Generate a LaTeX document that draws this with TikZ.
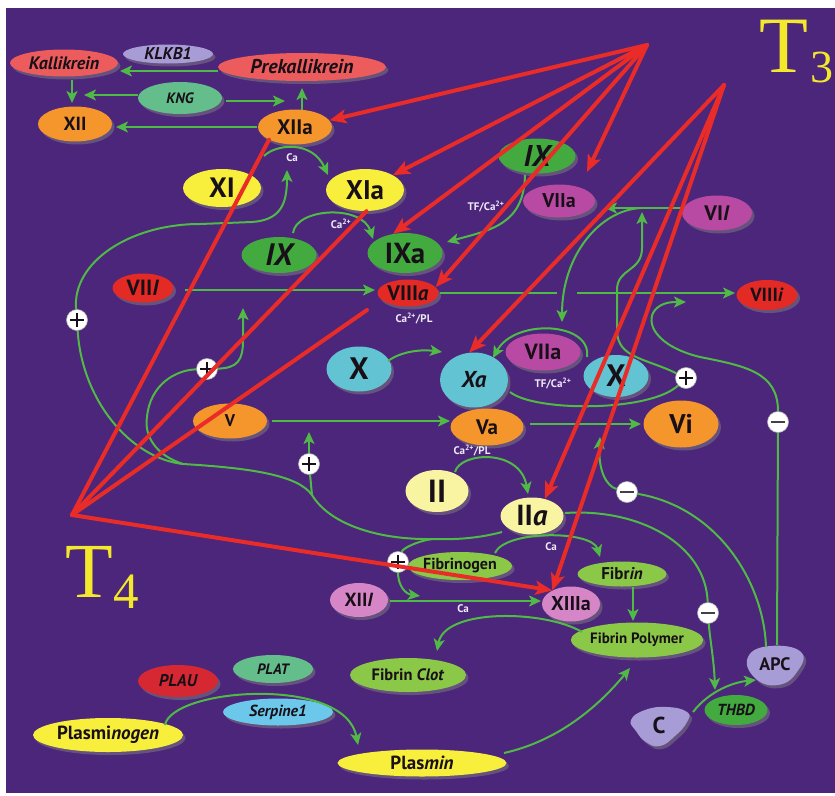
\documentclass[tikz,border=0pt]{standalone}
\usepackage{fontspec}
\setmainfont{PT Sans}
\newfontfamily\tfont{Liberation Serif}
\usetikzlibrary{shapes.geometric,arrows.meta,shadows}

\definecolor{bgpurple}{RGB}{75,38,122}
\definecolor{salmon}{RGB}{236,92,92}
\definecolor{lavender}{RGB}{168,156,214}
\definecolor{kngteal}{RGB}{100,190,140}
\definecolor{orangef}{RGB}{244,150,44}
\definecolor{yellowf}{RGB}{248,238,60}
\definecolor{greenf}{RGB}{66,170,62}
\definecolor{magentaf}{RGB}{184,74,164}
\definecolor{redf}{RGB}{228,42,36}
\definecolor{redf2}{RGB}{214,40,50}
\definecolor{cyanf}{RGB}{98,196,210}
\definecolor{paleyellow}{RGB}{248,244,162}
\definecolor{limef}{RGB}{140,200,72}
\definecolor{pinkf}{RGB}{214,134,198}
\definecolor{skyf}{RGB}{108,200,234}
\definecolor{redline}{RGB}{234,44,40}
\definecolor{greenline}{RGB}{80,186,70}
\definecolor{labyellow}{RGB}{244,232,44}
\definecolor{labwhite}{RGB}{240,234,248}
\definecolor{ink}{RGB}{24,16,24}

\newcommand{\fsz}[1]{\fontsize{#1}{#1}\selectfont\bfseries}

\begin{document}
\begin{tikzpicture}[x=1pt,y=-1pt,
  nd/.style={ellipse, inner sep=0pt, text=ink,
    drop shadow={shadow xshift=2.5pt, shadow yshift=-3pt, opacity=0.5}},
  blob/.style={drop shadow={shadow xshift=2.5pt, shadow yshift=-3pt, opacity=0.5}},
  anchorbox/.style={ellipse, inner sep=0pt, text=ink},
  ga/.style={draw=greenline, line width=2pt, -{Stealth[length=12pt,width=11pt,inset=3pt]}},
  gl/.style={draw=greenline, line width=2pt},
  ra/.style={draw=redline, line width=4pt, line cap=round, -{Stealth[length=17pt,width=14pt,inset=4pt]}},
  rl/.style={draw=redline, line width=4pt, line cap=round},
  lab/.style={text=labwhite, font=\fsz{11}, inner sep=0pt},
  pmbase/.style={circle, fill=white, draw=gray!60, line width=0.6pt, minimum size=21pt, inner sep=0pt},
  plus/.style={pmbase, path picture={\draw[ink, line width=2.4pt]
      ([xshift=-7pt]path picture bounding box.center) -- ([xshift=7pt]path picture bounding box.center)
      ([yshift=-7pt]path picture bounding box.center) -- ([yshift=7pt]path picture bounding box.center);}},
  minus/.style={pmbase, path picture={\draw[ink!80, line width=2.4pt]
      ([xshift=-7pt]path picture bounding box.center) -- ([xshift=7pt]path picture bounding box.center);}},
  tlab/.style={anchor=base west, inner sep=0pt, text=labyellow}
]
\useasboundingbox (0,0) rectangle (835,795);
\fill[white] (0,0) rectangle (835,795);
\fill[bgpurple] (6,8) rectangle (835,793);

% ---------- contact activation ----------
\node[nd, fill=salmon, minimum width=108pt, minimum height=27pt, font=\fsz{18}\itshape] (Kall) at (64,63) {Kallikrein};
\node[nd, fill=lavender, minimum width=90pt, minimum height=19pt, font=\fsz{17}\itshape] (KLKB) at (168,54) {KLKB1};
\node[nd, fill=salmon, minimum width=168pt, minimum height=28pt, font=\fsz{20}\itshape] (Prek) at (302,67) {Prekallikrein};
\node[nd, fill=kngteal, minimum width=84pt, minimum height=32pt, font=\fsz{15}\itshape] (KNG) at (180,98) {KNG};
\node[nd, fill=orangef, minimum width=74pt, minimum height=35pt, font=\fsz{19}] (XII) at (75,124) {XII};
\node[nd, fill=orangef, minimum width=74pt, minimum height=35pt, font=\fsz{21}] (XIIa) at (295,127) {XIIa};

% ---------- intrinsic pathway ----------
\node[nd, fill=yellowf, minimum width=78pt, minimum height=38pt, font=\fsz{28}] (XI) at (222,188) {XI};
\node[nd, fill=yellowf, minimum width=78pt, minimum height=42pt, font=\fsz{27}] (XIa) at (365,190) {XIa};
\node[nd, fill=greenf, minimum width=75pt, minimum height=36pt, font=\fsz{31}\itshape] (IXl) at (279,255) {IX};
\node[nd, fill=greenf, minimum width=75pt, minimum height=40pt, font=\fsz{29}] (IXa) at (405,253) {IXa};
\node[nd, fill=greenf, minimum width=77pt, minimum height=35pt, font=\fsz{30}\itshape] (IXt) at (537,156) {IX};
\node[nd, fill=magentaf, minimum width=72pt, minimum height=33pt, font=\fsz{20}] (VIIat) at (559,201) {VIIa};
\node[nd, fill=magentaf, minimum width=70pt, minimum height=35pt, font=\fsz{21}] (VII) at (717,213) {VI\textit{I}};
\node[nd, fill=redf, minimum width=61pt, minimum height=29pt, font=\fsz{22}] (VIII) at (143,288) {VII\textit{I}};
\node[nd, fill=redf, minimum width=61pt, minimum height=27pt, font=\fsz{21}] (VIIIa) at (408,293) {VIII\textit{a}};
\node[nd, fill=redf, minimum width=61pt, minimum height=30pt, font=\fsz{19}] (VIIIi) at (767,295) {VIII\textit{i}};

% ---------- common pathway ----------
\node[nd, fill=cyanf, minimum width=65pt, minimum height=45pt, font=\fsz{31}] (Xl) at (359,369) {X};
\node[nd, fill=cyanf, minimum width=68pt, minimum height=55pt, font=\fsz{23}\itshape] (Xa) at (474,380) {Xa};
\node[nd, fill=magentaf, minimum width=75pt, minimum height=37pt, font=\fsz{22}] (VIIam) at (543,352) {VIIa};
\node[nd, fill=cyanf, minimum width=65pt, minimum height=42pt, font=\fsz{31}] (Xr) at (616,376) {X};
\node[nd, fill=orangef, minimum width=74pt, minimum height=35pt, font=\fsz{17}] (V) at (230,421) {V};
\node[nd, fill=orangef, minimum width=73pt, minimum height=37pt, font=\fsz{21}] (Va) at (487,427) {Va};
\node[nd, fill=orangef, minimum width=75pt, minimum height=47pt, font=\fsz{27}] (Vi) at (681,424) {Vi};
\node[nd, fill=paleyellow, minimum width=63pt, minimum height=42pt, font=\fsz{32}] (II) at (437,491) {II};
\node[nd, fill=paleyellow, minimum width=63pt, minimum height=37pt, font=\fsz{29}] (IIa) at (532,516) {II\textit{a}};
\node[nd, fill=limef, minimum width=90pt, minimum height=28pt, font=\fsz{16}] (Fgn) at (460,566) {Fibrinogen};
\node[nd, fill=limef, minimum width=89pt, minimum height=25pt, font=\fsz{17}] (Fbn) at (622,574) {Fibr\textit{in}};
\node[nd, fill=pinkf, minimum width=58pt, minimum height=34pt, font=\fsz{19}] (XIII) at (359,600) {XII\textit{I}};
\node[nd, fill=pinkf, minimum width=58pt, minimum height=35pt, font=\fsz{20}] (XIIIa) at (571,604) {XIIIa};
\node[nd, fill=limef, minimum width=115pt, minimum height=35pt, font=\fsz{15}] (FP) at (637,640) {Fibrin Polymer};
\node[nd, fill=limef, minimum width=116pt, minimum height=34pt, font=\fsz{16.5}] (FC) at (408,675) {Fibrin \textit{Clot}};

% ---------- protein C system ----------
\fill[lavender, blob] plot[smooth cycle, tension=0.8] coordinates {(748,657) (770,646) (801,652) (797,672) (778,685) (755,678)};
\node[anchorbox, minimum width=54pt, minimum height=38pt, font=\fsz{18}] (APC) at (775,664) {APC};
\fill[lavender, blob] plot[smooth cycle, tension=0.8] coordinates {(631,720) (645,710) (667,707) (687,712) (687,722) (675,736) (660,746) (646,742) (636,731)};
\node[anchorbox, minimum width=56pt, minimum height=38pt, font=\fsz{23}] (C) at (659,725) {C};
\node[nd, fill=greenf, minimum width=63pt, minimum height=30pt, font=\fsz{16}\itshape] (THBD) at (736,710) {THBD};

% ---------- fibrinolysis ----------
\node[nd, fill=redf2, minimum width=80pt, minimum height=32pt, font=\fsz{17}\itshape] (PLAU) at (178,681) {PLAU};
\node[nd, fill=kngteal, minimum width=80pt, minimum height=28pt, font=\fsz{15}\itshape] (PLAT) at (273,669) {PLAT};
\node[nd, fill=skyf, minimum width=110pt, minimum height=27pt, font=\fsz{16}\itshape] (Serp) at (278,712) {Serpine1};
\node[nd, fill=yellowf, minimum width=150pt, minimum height=34pt, font=\fsz{19}] (Plg) at (108,735) {Plasmi\textit{nogen}};
\node[nd, fill=yellowf, minimum width=169pt, minimum height=27pt, font=\fsz{19}] (Pls) at (422,763) {Plas\textit{min}};

% ---------- feedback signs ----------
\node[plus] (pXI) at (77,320) {};
\node[plus] (pVIII) at (207,369) {};
\node[plus] (pV) at (309,464) {};
\node[plus] (pXIII) at (398,562) {};
\node[plus] (pVII) at (686,378) {};
\node[minus] (mVIII) at (778,422) {};
\node[minus] (mV) at (627,492) {};
\node[minus] (mTH) at (708,613) {};

% ---------- branch points and targets ----------
\coordinate (T3a) at (647,45);
\coordinate (T3b) at (724,85);
\coordinate (T4a) at (72,515);
\coordinate (jVII) at (641,208);
\coordinate (j1) at (312,495);
\coordinate (j2) at (183,464);
\coordinate (j3) at (432,539);
\coordinate (gapA) at (557,293);
\coordinate (gapB) at (577,293);
\coordinate (aV) at (309,432);
\coordinate (aXI) at (287,170);
\coordinate (aVIII) at (243,308);
\coordinate (aXIII) at (420,596);
\coordinate (aVIIIi) at (686,302);
\coordinate (aVi) at (600,437);

% ---------- green reaction arrows ----------
\draw[ga] ([shift={(-84,4)}]Prek.center) -- ([shift={(56,8)}]Kall.center);
\draw[ga] ([shift={(8,17)}]Kall.center) -- ([shift={(-3,-21)}]XII.center);
\draw[ga] ([shift={(-42,-3)}]KNG.center) -- ([shift={(9,-29)}]XII.center);
\draw[ga] ([shift={(46,3)}]KNG.center) -- ([shift={(-10,-26)}]XIIa.center);
\draw[ga] ([shift={(7,-17)}]XIIa.center) -- ([shift={(0,21)}]Prek.center);
\draw[ga] ([shift={(-38,0)}]XIIa.center) -- ([shift={(41,3)}]XII.center);
\draw[ga] ([shift={(-31,29)}]XIIa.center) .. controls (276,144) and (312,140) .. ([shift={(-37,-15)}]XIa.center);
\draw[ga] ([shift={(14,-22)}]IXl.center) .. controls (296,208) and (362,204) .. ([shift={(-32,-14)}]IXa.center);
\draw[ga] ([shift={(-12,19)}]IXt.center) .. controls (524,225) and (490,230) .. ([shift={(42,-11)}]IXa.center);
\draw[ga] ([shift={(42,2)}]VIII.center) -- ([shift={(-33,-3)}]VIIIa.center);
\draw[ga] ([shift={(32,0)}]VIIIa.center) -- (gapA) (gapB) -- ([shift={(-32,-2)}]VIIIi.center);
\draw[ga] ([shift={(29,-8)}]Xl.center) .. controls (400,352) and (420,349) .. ([shift={(-32,-28)}]Xa.center);
\draw[ga] ([shift={(-29,-19)}]Xr.center) .. controls (592,322) and (515,318) .. ([shift={(19,-22)}]Xa.center);
\draw[ga] ([shift={(-35,-5)}]VII.center) -- ([shift={(46,7)}]VIIat.center);
\draw[ga] (jVII) .. controls (600,210) and (562,255) .. ([shift={(19,-30)}]VIIam.center);
\draw[gl] ([shift={(36,12)}]Xa.center) .. controls (535,412) and (650,412) .. (pVII);
\draw[ga] (pVII) .. controls (645,358) and (617,358) .. (617,330) -- (617,290)
  .. controls (617,268) and (642,272) .. (642,248) -- ([shift={(1,4)}]jVII);
\draw[ga] ([shift={(42,0)}]V.center) -- ([shift={(-37,-6)}]Va.center);
\draw[ga] ([shift={(43,-3)}]Va.center) -- ([shift={(-40,0)}]Vi.center);
\draw[ga] ([shift={(18,-19)}]II.center) .. controls (460,452) and (520,448) .. ([shift={(-4,-22)}]IIa.center);
\draw[ga] ([shift={(35,-13)}]Fgn.center) .. controls (505,530) and (592,530) .. ([shift={(-22,-17)}]Fbn.center);
\draw[ga] ([shift={(31,1)}]XIII.center) -- ([shift={(-30,-3)}]XIIIa.center);
\draw[ga] ([shift={(11,13)}]Fbn.center) -- ([shift={(-4,-19)}]FP.center);
\draw[ga] ([shift={(-55,-8)}]FP.center) .. controls (545,610) and (445,608) .. ([shift={(29,-24)}]FC.center);
\draw[ga] ([shift={(82,-10)}]Pls.center) .. controls (562,740) and (602,702) .. ([shift={(-7,28)}]FP.center);
\draw[ga] ([shift={(57,-10)}]Plg.center) .. controls (172,688) and (345,675) .. ([shift={(-64,-18)}]Pls.center);
\draw[ga] ([shift={(34,-13)}]C.center) .. controls (710,690) and (735,682) .. ([shift={(-19,16)}]APC.center);

% ---------- APC inhibition ----------
\draw[gl] ([shift={(2,-19)}]APC.center) -- (mVIII);
\draw[ga] (mVIII) .. controls (778,372) and (745,366) .. (700,357)
  .. controls (655,346) and (645,322) .. (655,310) .. controls (662,302) and (672,302) .. (aVIIIi);
\draw[gl] ([shift={(-9,-17)}]APC.center) .. controls (764,585) and (720,508) .. (mV);
\draw[ga] (mV) .. controls (606,486) and (598,470) .. (aVi);
\draw[gl] ([shift={(33,-3)}]IIa.center) .. controls (640,508) and (706,545) .. (mTH);
\draw[ga] (mTH) .. controls (710,640) and (714,660) .. ([shift={(-21,-20)}]THBD.center);

% ---------- thrombin feedback ----------
\draw[gl] ([shift={(-30,16)}]IIa.center) .. controls (480,538) and (455,540) .. (j3)
  .. controls (380,540) and (330,525) .. (j1) .. controls (298,475) and (250,468) .. (j2);
\draw[gl] (j1) -- (pV);
\draw[ga] (pV) -- (aV);
\draw[gl] (j2) .. controls (130,458) and (82,400) .. (pXI);
\draw[ga] (pXI) .. controls (72,262) and (130,224) .. (200,224) -- (252,222)
  .. controls (280,220) and (287,205) .. (aXI);
\draw[gl] (j2) .. controls (155,455) and (144,435) .. (147,417) .. controls (150,385) and (175,370) .. (pVIII);
\draw[ga] (pVIII) .. controls (238,368) and (243,360) .. (243,340) -- (aVIII);
\draw[gl] (j3) .. controls (418,541) and (403,548) .. (pXIII);
\draw[ga] (pXIII) .. controls (398,585) and (405,594) .. (aXIII);

% ---------- cofactor labels ----------
\node[lab] (lCa1) at (292,158) {Ca};
\node[lab] (lCa2) at (341,224) {Ca\textsuperscript{2+}};
\node[lab] (lTF1) at (486,207) {TF/Ca\textsuperscript{2+}};
\node[lab] (lCaPL1) at (414,319) {Ca\textsuperscript{2+}/PL};
\node[lab] (lTF2) at (553,384) {TF/Ca\textsuperscript{2+}};
\node[lab] (lCaPL2) at (472,451) {Ca\textsuperscript{2+}/PL};
\node[lab] (lCa3) at (551,547) {Ca};
\node[lab] (lCa4) at (463,609) {Ca};

% ---------- time-point targets ----------
\draw[ra] (T3a) -- (XIIa.11);
\draw[ra] (T3a) -- (XIa.28);
\draw[ra] (T3a) -- (IXa.122);
\draw[ra] (T3a) -- (VIIIa.12);
\draw[ra] (T3a) -- ([shift={(28,-29)}]VIIat.center);
\draw[ra] (T3b) -- (Xa.100);
\draw[ra] (T3b) -- (IIa.53);
\draw[ra] (T3b) -- (XIIIa.144);
\draw[rl] (T4a) -- (XIIa.206);
\draw[rl] (T4a) -- (XIa.274);
\draw[rl] (T4a) -- ([shift={(-41,17)}]VIIIa.center);
\draw[ra] (T4a) -- (XIIIa.144);

\node[tlab, font=\tfont\fontsize{80}{80}\selectfont] (T3) at (759,72) {T};
\node[tlab, font=\tfont\fontsize{46}{46}\selectfont] (T3s) at (810,82) {3};
\node[tlab, font=\tfont\fontsize{78}{78}\selectfont] (T4) at (65,597) {T};
\node[tlab, font=\tfont\fontsize{51}{51}\selectfont] (T4s) at (113,608) {4};
\end{tikzpicture}
\end{document}
